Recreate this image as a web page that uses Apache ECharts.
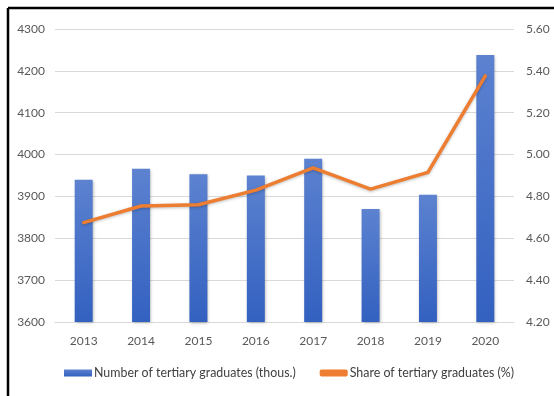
<!DOCTYPE html>
<html>
<head>
<meta charset="utf-8">
<script src="https://cdn.jsdelivr.net/npm/echarts@6/dist/echarts.min.js"></script>
<style>
html,body{margin:0;padding:0;background:#fff;}
#chart{width:554px;height:396px;}
</style>
</head>
<body>
<div id="chart"></div>
<script>
var years = ['2013','2014','2015','2016','2017','2018','2019','2020'];
var graduates = [3940, 3966, 3953, 3950, 3990, 3870, 3904, 4238];
var share = [4.675, 4.754, 4.76, 4.83, 4.936, 4.835, 4.915, 5.376];
var seriesNames = ['Number of tertiary graduates (thous.)', 'Share of tertiary graduates (%)'];

var chart = echarts.init(document.getElementById('chart'));
var font = 'Lato';
chart.setOption({
  animation: false,
  textStyle: {fontFamily: font},
  grid: {left: 55, right: 40, top: 29, bottom: 74},
  graphic: [
    {type: 'line', shape: {x1: 8, y1: 8, x2: 8, y2: 396}, style: {stroke: '#000', lineWidth: 2.5}},
    {type: 'line', shape: {x1: 8, y1: 8, x2: 554, y2: 8}, style: {stroke: '#000', lineWidth: 2.5}}
  ],
  legend: {
    bottom: 12,
    left: 59,
    itemWidth: 28,
    itemHeight: 7,
    itemGap: 24,
    textStyle: {fontFamily: font, fontSize: 12.4, color: '#404040', padding: [0, 0, 0, -3]},
    data: [
      {name: seriesNames[0], icon: 'rect'},
      {name: seriesNames[1], icon: 'roundRect'}
    ]
  },
  xAxis: {
    type: 'category',
    data: years,
    axisTick: {show: false},
    axisLine: {lineStyle: {color: '#d9d9d9'}},
    axisLabel: {color: '#595959', fontSize: 12, margin: 13, fontFamily: font}
  },
  yAxis: [
    {
      type: 'value', min: 3600, max: 4300, interval: 100,
      axisLabel: {color: '#595959', fontSize: 12, margin: 10, fontFamily: font,
        formatter: function (v) { return String(v); }},
      splitLine: {lineStyle: {color: '#d9d9d9'}},
      axisLine: {show: false}, axisTick: {show: false}
    },
    {
      type: 'value', min: 4.2, max: 5.6, interval: 0.2,
      axisLabel: {color: '#595959', fontSize: 12, margin: 12, fontFamily: font,
        formatter: function (v) { return v.toFixed(2); }},
      splitLine: {show: false},
      axisLine: {show: false}, axisTick: {show: false}
    }
  ],
  series: [
    {
      name: seriesNames[0],
      type: 'bar',
      data: graduates,
      barWidth: 18,
      itemStyle: {
        color: new echarts.graphic.LinearGradient(0, 0, 0, 1, [
          {offset: 0, color: '#5c82d0'},
          {offset: 1, color: '#3361c0'}
        ]),
        shadowColor: 'rgba(0,0,0,0.3)', shadowBlur: 3, shadowOffsetX: 1, shadowOffsetY: 1
      }
    },
    {
      name: seriesNames[1],
      type: 'line',
      yAxisIndex: 1,
      data: share,
      showSymbol: false,
      symbol: 'none',
      lineStyle: {color: '#ED7D31', width: 3.5, cap: 'round', join: 'round',
        shadowColor: 'rgba(0,0,0,0.25)', shadowBlur: 3, shadowOffsetY: 1},
      itemStyle: {color: '#ED7D31'}
    }
  ]
});
</script>
</body>
</html>
